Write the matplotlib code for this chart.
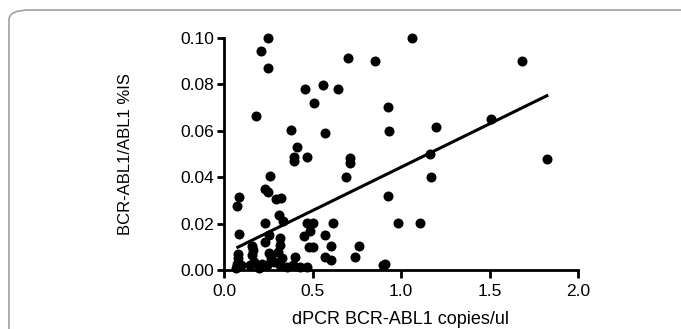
import numpy as np
import matplotlib
matplotlib.use("Agg")
import matplotlib.pyplot as plt
from matplotlib.patches import FancyBboxPatch

# dPCR copies/ul vs BCR-ABL1/ABL1 %IS
dpcr = [0.249, 0.21, 0.251, 1.061, 0.702, 0.854, 1.683, 0.561, 0.459, 0.646,
        0.51, 0.178, 0.927, 1.507, 0.378, 0.568, 0.934, 1.195, 0.41, 0.398,
        0.393, 0.468, 0.71, 0.71, 0.688, 1.166, 1.171, 1.824, 0.259, 0.232,
        0.249, 0.295, 0.32, 0.085, 0.073, 0.927, 0.234, 0.312, 0.334, 0.471,
        0.5, 0.617, 0.983, 1.105, 0.083, 0.256, 0.232, 0.317, 0.451, 0.485,
        0.568, 0.48, 0.5, 0.605, 0.763, 0.571, 0.602, 0.739, 0.91, 0.898,
        0.08, 0.08, 0.073, 0.068, 0.098, 0.159, 0.163, 0.159, 0.171, 0.146,
        0.2, 0.215, 0.256, 0.268, 0.244, 0.317, 0.305, 0.329, 0.317, 0.354,
        0.402, 0.39, 0.427, 0.471, 0.28]
ratio_is = [0.100, 0.0943, 0.0872, 0.100, 0.0915, 0.090, 0.090, 0.0799, 0.078, 0.078,
            0.072, 0.0662, 0.0702, 0.0652, 0.0603, 0.0589, 0.060, 0.0617, 0.0532, 0.0489,
            0.0468, 0.0489, 0.0482, 0.0461, 0.0401, 0.050, 0.0401, 0.048, 0.0407, 0.0348,
            0.0338, 0.0305, 0.031, 0.0316, 0.0274, 0.0319, 0.0201, 0.0237, 0.0213, 0.0203,
            0.0203, 0.0203, 0.0203, 0.0203, 0.0156, 0.0149, 0.0121, 0.014, 0.0146, 0.017,
            0.0149, 0.0099, 0.0099, 0.0104, 0.0104, 0.0057, 0.0045, 0.0054, 0.0028, 0.0021,
            0.0071, 0.005, 0.0028, 0.001, 0.002, 0.0104, 0.0085, 0.0064, 0.0035, 0.002,
            0.001, 0.0028, 0.0075, 0.005, 0.002, 0.0106, 0.0078, 0.005, 0.002, 0.0014,
            0.0057, 0.002, 0.0014, 0.0014, 0.0035]

# regression line as drawn
fit_slope = 0.0374
fit_intercept = 0.0069

x_ticks = [0.0, 0.5, 1.0, 1.5, 2.0]
y_ticks = [0.00, 0.02, 0.04, 0.06, 0.08, 0.10]

plt.rcParams['font.family'] = ['Liberation Sans', 'DejaVu Sans']

fig = plt.figure(figsize=(6.81, 3.29), dpi=100)
ax = fig.add_axes([224 / 681, 59 / 329, 354 / 681, 232 / 329])

# rounded frame around the figure
frame = FancyBboxPatch((9 / 681, -0.2), 1.2, 1.2 - 10 / 329,
                       boxstyle="round,pad=0,rounding_size=0.03",
                       transform=fig.transFigure, fill=False,
                       edgecolor="#a0a0a0", linewidth=1.2, clip_on=False)
fig.patches.append(frame)

ax.scatter(dpcr, ratio_is, s=52, color="black", zorder=3, clip_on=False,
           linewidths=0)

fx = np.array([min(dpcr) + 0.01, max(dpcr)])
ax.plot(fx, fit_intercept + fit_slope * fx, color="black", lw=2.2, zorder=4)

ax.set_xlim(0, 2.0)
ax.set_ylim(0, 0.10)
ax.set_xticks(x_ticks)
ax.set_yticks(y_ticks)
ax.set_xticklabels([f"{v:.1f}" for v in x_ticks])
ax.set_yticklabels([f"{v:.2f}" for v in y_ticks])

for side in ["top", "right"]:
    ax.spines[side].set_visible(False)
for side in ["left", "bottom"]:
    ax.spines[side].set_linewidth(2.0)
ax.tick_params(direction="out", length=5, width=2.0, labelsize=12.5, pad=2)
ax.tick_params(axis="x", length=6, pad=4)

ax.set_xlabel("dPCR BCR-ABL1 copies/ul", fontsize=13, labelpad=9)
ax.set_ylabel("BCR-ABL1/ABL1 %IS", fontsize=12, labelpad=34)

fig.savefig("out.png", dpi=100)
